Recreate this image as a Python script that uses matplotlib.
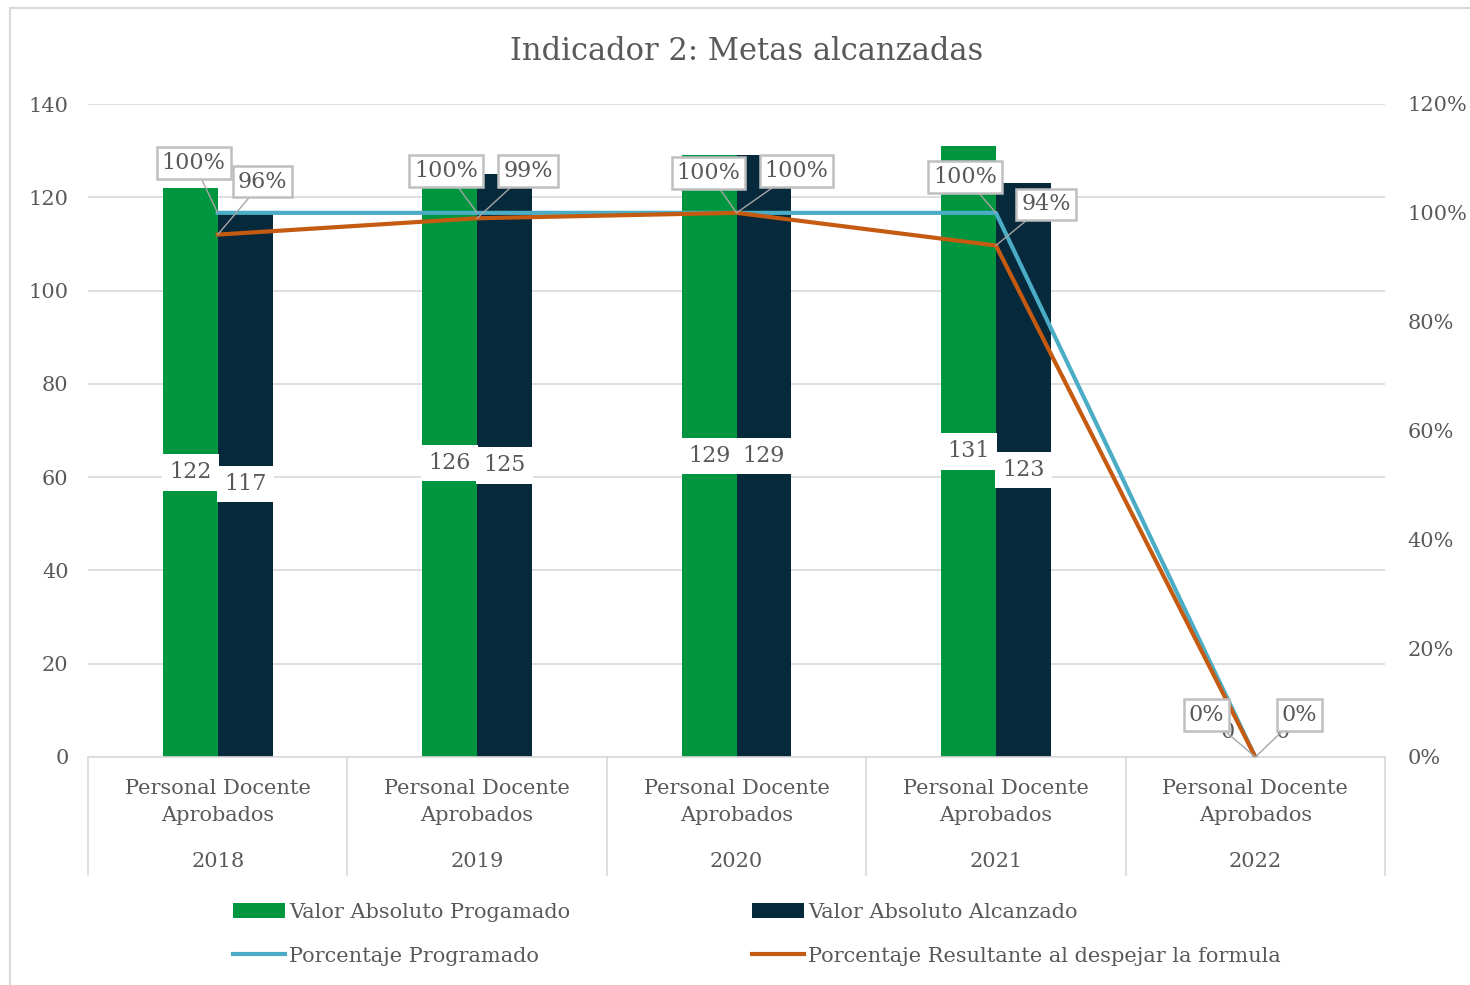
import matplotlib.pyplot as plt
from matplotlib.lines import Line2D
import numpy as np

years = ['2018', '2019', '2020', '2021', '2022']
category = 'Personal Docente\nAprobados'
programado = [122, 126, 129, 131, 0]
alcanzado = [117, 125, 129, 123, 0]
pct_programado = [100, 100, 100, 100, 0]
pct_resultante = [96, 99, 100, 94, 0]

GREEN = '#00963F'
NAVY = '#06293B'
BLUE = '#4BACC6'
ORANGE = '#C55A11'
TXT = '#595959'
GRID = '#D9D9D9'

# label offsets in pixels (layout only)
off_prog = [(-24, 50), (-31, 42), (-28, 40), (-31, 36), (-49, 42)]
off_res = [(45, 53), (51, 47), (60, 42), (50, 41), (44, 42)]

plt.rcParams['font.family'] = ['DejaVu Serif']

fig = plt.figure(figsize=(14.7, 9.85), dpi=100)
ax = fig.add_axes([88 / 1470, 1 - 757 / 985, (1385 - 88) / 1470, (757 - 104) / 985])
ax2 = ax.twinx()

x = np.arange(len(years))
w = 0.212
b1 = ax.bar(x - w / 2, programado, w, color=GREEN, zorder=2, label='Valor Absoluto Progamado')
b2 = ax.bar(x + w / 2, alcanzado, w, color=NAVY, zorder=2, label='Valor Absoluto Alcanzado')

for xs, vals in ((x - w / 2, programado), (x + w / 2, alcanzado)):
    for xi, v in zip(xs, vals):
        ax.text(xi, v / 2 if v else 3, str(v), ha='center', va='center' if v else 'bottom',
                fontsize=16, color=TXT, zorder=3,
                bbox=dict(boxstyle='square,pad=0.33', fc='white', ec='none'))

ax.set_xlim(-0.5, len(years) - 0.5)
ax.set_ylim(0, 140)
ax.set_yticks(range(0, 141, 20))
ax.grid(axis='y', color=GRID, lw=1.2, zorder=0)
ax.set_axisbelow(True)
for s in ['top', 'right', 'left']:
    ax.spines[s].set_visible(False)
ax.spines['bottom'].set_color(GRID)
ax.spines['bottom'].set_linewidth(1.2)
ax.tick_params(axis='y', length=0, labelsize=15, labelcolor=TXT, pad=14)
ax.set_xticks(x)
ax.set_xticklabels([category] * len(years), fontsize=15, color=TXT, linespacing=1.55)
ax.tick_params(axis='x', length=0, pad=16)
for xi, yr in zip(x, years):
    ax.text(xi, -0.16, yr, transform=ax.get_xaxis_transform(), ha='center', va='center',
            fontsize=15, color=TXT)
for bnd in np.arange(-0.5, len(years), 1.0):
    ax.plot([bnd, bnd], [0, -0.181], transform=ax.get_xaxis_transform(), color=GRID,
            lw=1.2, clip_on=False)

ax2.set_ylim(0, 120)
ax2.set_yticks(range(0, 121, 20))
ax2.set_yticklabels([f'{t}%' for t in range(0, 121, 20)])
ax2.tick_params(axis='y', length=0, labelsize=15, labelcolor=TXT, pad=16)
for s in ax2.spines.values():
    s.set_visible(False)
l1, = ax2.plot(x, pct_programado, color=BLUE, lw=3, zorder=4, label='Porcentaje Programado')
l2, = ax2.plot(x, pct_resultante, color=ORANGE, lw=3, zorder=5,
               label='Porcentaje Resultante al despejar la formula')

for vals, offs in ((pct_programado, off_prog), (pct_resultante, off_res)):
    for xi, v, (dx, dy) in zip(x, vals, offs):
        ax2.annotate(f'{v}%', xy=(xi, v), xytext=(dx * 0.72, dy * 0.72), textcoords='offset points',
                     ha='center', va='center', fontsize=16, color=TXT, zorder=6,
                     bbox=dict(boxstyle='square,pad=0.22', fc='white', ec='#BFBFBF', lw=1.8),
                     arrowprops=dict(arrowstyle='-', color='#A6A6A6', lw=1, shrinkA=0, shrinkB=0))

fig.text(747 / 1470, 1 - 51 / 985, 'Indicador 2: Metas alcanzadas', ha='center', va='center',
         fontsize=22, color=TXT)

fig.legend([b1, l1, b2, l2], [h.get_label() for h in (b1, l1, b2, l2)], ncol=2,
           loc='center', bbox_to_anchor=(0.515, 1 - 934 / 985), frameon=False,
           fontsize=15, labelcolor=TXT, handlelength=2.5, handletextpad=0.2,
           columnspacing=8.7, labelspacing=1.2)

fig.add_artist(Line2D([10 / 1470, 10 / 1470], [0, 1 - 8 / 985], color=GRID, lw=1.5))
fig.add_artist(Line2D([10 / 1470, 1], [1 - 8 / 985, 1 - 8 / 985], color=GRID, lw=1.5))

fig.savefig('out.png', dpi=100, facecolor='white')
